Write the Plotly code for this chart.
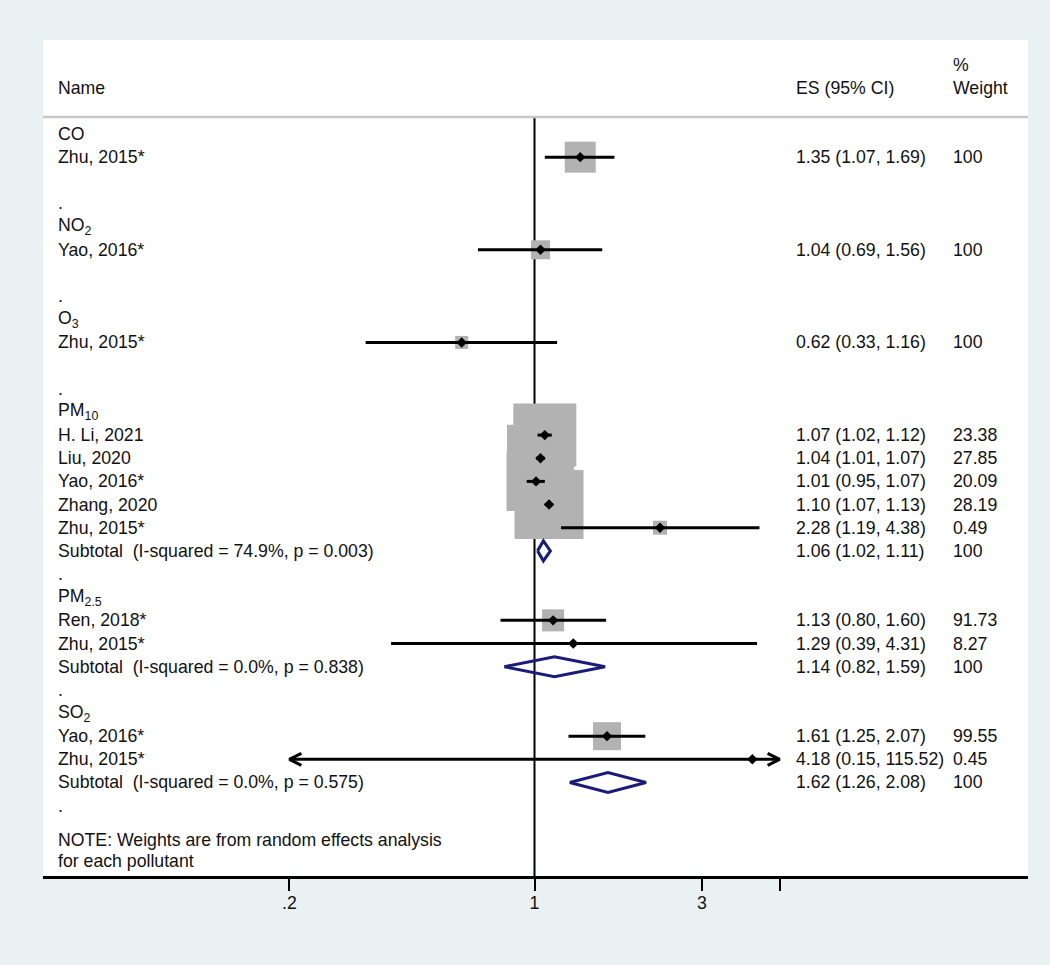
import numpy as np
import plotly.graph_objects as go

# ---------------- data ----------------
groups = ["CO", "NO<sub>2</sub>", "O<sub>3</sub>", "PM<sub>10</sub>", "PM<sub>2.5</sub>", "SO<sub>2</sub>"]
study_group = [0, 1, 2, 3, 3, 3, 3, 3, 4, 4, 5, 5]
study_names = ["Zhu, 2015*", "Yao, 2016*", "Zhu, 2015*", "H. Li, 2021", "Liu, 2020",
               "Yao, 2016*", "Zhang, 2020", "Zhu, 2015*", "Ren, 2018*", "Zhu, 2015*",
               "Yao, 2016*", "Zhu, 2015*"]
es = [1.35, 1.04, 0.62, 1.07, 1.04, 1.01, 1.10, 2.28, 1.13, 1.29, 1.61, 4.18]
ci_lo = [1.07, 0.69, 0.33, 1.02, 1.01, 0.95, 1.07, 1.19, 0.80, 0.39, 1.25, 0.15]
ci_hi = [1.69, 1.56, 1.16, 1.12, 1.07, 1.07, 1.13, 4.38, 1.60, 4.31, 2.07, 115.52]
weights = [100, 100, 100, 23.38, 27.85, 20.09, 28.19, 0.49, 91.73, 8.27, 99.55, 0.45]

sub_group = [3, 4, 5]
sub_i2 = [74.9, 0.0, 0.0]
sub_p = [0.003, 0.838, 0.575]
sub_es = [1.06, 1.14, 1.62]
sub_lo = [1.02, 0.82, 1.26]
sub_hi = [1.11, 1.59, 2.08]

tick_vals = [0.2, 1, 3, 5]
tick_text = [".2", "1", "3", ""]
header_name = "Name"
header_es = "ES (95% CI)"
header_w = ["%", "Weight"]
note_lines = ["NOTE: Weights are from random effects analysis", "for each pollutant"]

# ---------------- style ----------------
box_px = [31, 19, 13, 63, 67, 59, 69, 14, 22, 6, 28, 5]
FONT = "Liberation Sans, Arial, sans-serif"
FS = 17.7
TXT = "#111111"
BOX = "#b2b2b2"
NAVY = "#1b1c78"
BG = "#eaf1f3"
CLIP_LO, CLIP_HI = 0.2, 5.0
W, H = 1050, 965
L, R, T, B = 43, 22, 40, 89
ROW_PX = 23.16
ROW0_PX = 134.0


def px_to_paper(px):
    return (px - L) / (W - L - R)


def py_to_row(py):
    return (py - ROW0_PX) / ROW_PX


# ---------------- layout of rows ----------------
rows_group = []
rows_study = [None] * len(es)
rows_sub = {}
rows_dot = []
r = 0
for g in range(len(groups)):
    rows_group.append(r)
    r += 1
    for i, sg in enumerate(study_group):
        if sg == g:
            rows_study[i] = r
            r += 1
    rows_sub[g] = r
    r += 1
    rows_dot.append(r)
    r += 1

fig = go.Figure()

y_header_line = py_to_row(117)
y_bottom = py_to_row(H - B)
y_top = py_to_row(T)

# reference line at 1
fig.add_trace(go.Scatter(x=[1, 1], y=[y_header_line, y_bottom], mode="lines",
                         line=dict(color="black", width=2), hoverinfo="skip"))

# weight boxes
fig.add_trace(go.Scatter(x=es, y=rows_study, mode="markers", opacity=1,
                         marker=dict(symbol="square", size=box_px, color=BOX, opacity=1,
                                     line=dict(width=0)),
                         hoverinfo="skip"))

# CI lines + arrows
cx, cy = [], []
ax_, ay_ = [], []
arm_f = 10 ** (12 / 350.7)
arm_h = 6 / ROW_PX
for i in range(len(es)):
    y = rows_study[i]
    x0 = max(ci_lo[i], CLIP_LO)
    x1 = min(ci_hi[i], CLIP_HI)
    cx += [x0, x1, None]
    cy += [y, y, None]
    if ci_lo[i] < CLIP_LO:
        ax_ += [x0 * arm_f, x0, x0 * arm_f, None]
        ay_ += [y - arm_h, y, y + arm_h, None]
    if ci_hi[i] > CLIP_HI:
        ax_ += [x1 / arm_f, x1, x1 / arm_f, None]
        ay_ += [y - arm_h, y, y + arm_h, None]
fig.add_trace(go.Scatter(x=cx, y=cy, mode="lines", line=dict(color="black", width=3),
                         hoverinfo="skip"))
fig.add_trace(go.Scatter(x=ax_, y=ay_, mode="lines", line=dict(color="black", width=3),
                         hoverinfo="skip"))

# point estimates
fig.add_trace(go.Scatter(x=es, y=rows_study, mode="markers",
                         marker=dict(symbol="diamond", size=8, color="black", opacity=1),
                         hoverinfo="skip"))

# subtotal diamonds
dh = 10 / ROW_PX
dx, dy = [], []
for k, g in enumerate(sub_group):
    y = rows_sub[g]
    dx += [sub_lo[k], sub_es[k], sub_hi[k], sub_es[k], sub_lo[k], None]
    dy += [y, y - dh, y, y + dh, y, None]
fig.add_trace(go.Scatter(x=dx, y=dy, mode="lines", line=dict(color=NAVY, width=3),
                         hoverinfo="skip"))

# ---------------- text ----------------
ann = []
X_NAME = px_to_paper(56)
X_ES = px_to_paper(794)
X_W = px_to_paper(951)


def add_text(x, y, s):
    ann.append(dict(x=x, y=y, xref="paper", yref="y", text=s, showarrow=False,
                    xanchor="left", yanchor="middle",
                    font=dict(family=FONT, size=FS, color=TXT)))


add_text(X_NAME, -2, header_name)
add_text(X_ES, -2, header_es)
add_text(X_W, -3, header_w[0])
add_text(X_W, -2, header_w[1])

for g in range(len(groups)):
    add_text(X_NAME, rows_group[g], groups[g])
    add_text(X_NAME, rows_dot[g], ".")
for i in range(len(es)):
    add_text(X_NAME, rows_study[i], study_names[i])
    add_text(X_ES, rows_study[i], f"{es[i]:.2f} ({ci_lo[i]:.2f}, {ci_hi[i]:.2f})")
    add_text(X_W, rows_study[i], f"{weights[i]:g}")
for k, g in enumerate(sub_group):
    y = rows_sub[g]
    add_text(X_NAME, y, f"Subtotal\u00a0 (I-squared = {sub_i2[k]:.1f}%, p = {sub_p[k]:.3f})")
    add_text(X_ES, y, f"{sub_es[k]:.2f} ({sub_lo[k]:.2f}, {sub_hi[k]:.2f})")
    add_text(X_W, y, "100")

add_text(X_NAME, py_to_row(840), note_lines[0])
add_text(X_NAME, py_to_row(861), note_lines[1])

shapes = [dict(type="line", xref="paper", yref="y", x0=0, x1=1,
               y0=y_header_line, y1=y_header_line, line=dict(color="#c6c6c6", width=2.5))]

xr0 = (L - 534.5) / 350.7
xr1 = (W - R - 534.5) / 350.7

fig.update_layout(
    width=W, height=H,
    margin=dict(l=L, r=R, t=T, b=B, pad=0),
    paper_bgcolor=BG, plot_bgcolor="white",
    showlegend=False,
    annotations=ann, shapes=shapes,
    xaxis=dict(type="log", range=[xr0, xr1], showgrid=False, zeroline=False,
               showline=True, linecolor="black", linewidth=3,
               tickmode="array", tickvals=tick_vals, ticktext=tick_text,
               ticks="outside", ticklen=12, tickwidth=2, tickcolor="black",
               ticklabelstandoff=-3,
               tickfont=dict(family=FONT, size=FS, color=TXT), fixedrange=True),
    yaxis=dict(range=[y_bottom, y_top], showgrid=False, zeroline=False,
               showticklabels=False, showline=False, fixedrange=True),
)

fig.write_html("out.html", config={"displayModeBar": False},
               post_script="document.body.style.margin='0px';document.body.style.overflow='hidden';")
